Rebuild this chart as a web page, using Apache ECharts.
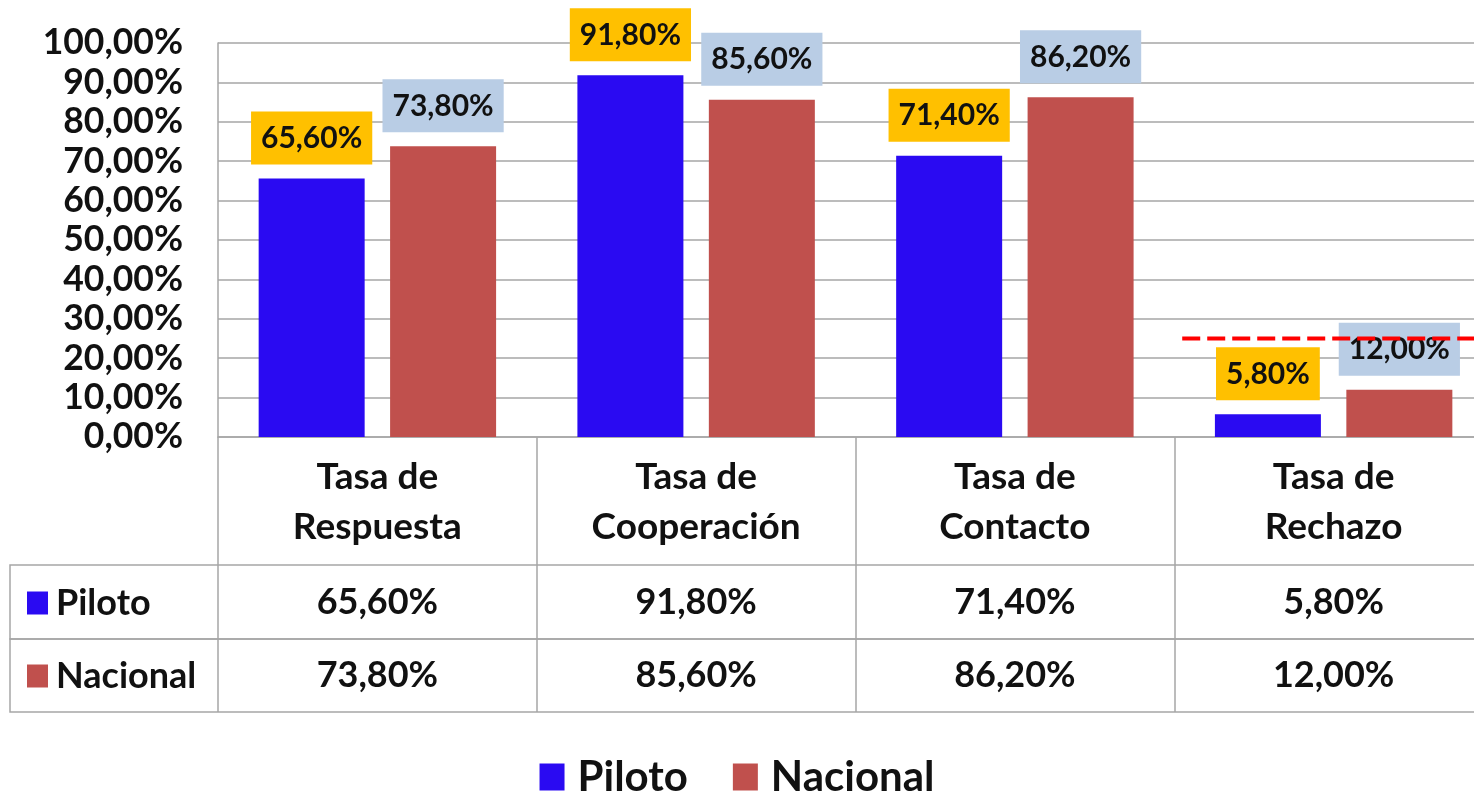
<!DOCTYPE html>
<html>
<head>
<meta charset="utf-8">
<script src="https://cdn.jsdelivr.net/npm/echarts@6/dist/echarts.min.js"></script>
<style>
  html, body { margin: 0; padding: 0; background: #fff; }
  #chart { width: 1474px; height: 791px; }
</style>
</head>
<body>
<div id="chart"></div>
<script>
// datos
const categorias = ['Tasa de\nRespuesta', 'Tasa de\nCooperación', 'Tasa de\nContacto', 'Tasa de\nRechazo'];
const piloto = [65.6, 91.8, 71.4, 5.8];
const nacional = [73.8, 85.6, 86.2, 12.0];
const ejeY = { min: 0, max: 100, paso: 10 };
// linea roja discontinua en la tasa de rechazo
const limiteRechazo = 25;
const limiteTramo = [3.025, 4];

const FUENTE = 'Lato';
const GRIS = '#a6a6a6';
const fmt = v => v.toFixed(2).replace('.', ',') + '%';

let chart = echarts.init(document.getElementById('chart'));

// etiqueta de la tabla de datos bajo cada categoria
function etiquetaTabla(valor, idx) {
  let lineas = valor.split('\n').map(l => '{h|' + l + '}');
  return lineas.join('\n') + '\n{p|' + fmt(piloto[idx]) + '}\n{n|' + fmt(nacional[idx]) + '}';
}

function etiquetaBarra(color) {
  return {
    show: true,
    position: 'top',
    distance: 14,
    backgroundColor: color,
    padding: [12, 10, 11, 10],
    fontFamily: FUENTE,
    fontWeight: 'bold',
    fontSize: 30,
    lineHeight: 30,
    color: '#111',
    formatter: p => fmt(p.value)
  };
}

// el grafico original queda cortado por la derecha
const anchoTabla = 1275;

let option = {
  animation: false,
  textStyle: { fontFamily: FUENTE },
  grid: [
    { left: 218, top: 43, width: anchoTabla, bottom: 354, outerBoundsMode: 'none' },
    { left: 10, top: 565, width: anchoTabla + 208, height: 74, outerBoundsMode: 'none', show: true, borderColor: GRIS, borderWidth: 1.5, backgroundColor: 'transparent' },
    { left: 10, top: 639, width: anchoTabla + 208, height: 73, outerBoundsMode: 'none', show: true, borderColor: GRIS, borderWidth: 1.5, backgroundColor: 'transparent' }
  ],
  legend: [
    {
      data: ['Piloto', 'Nacional'],
      left: 'center',
      top: 749,
      icon: 'rect',
      itemWidth: 25,
      itemHeight: 27,
      itemGap: 45,
      textStyle: { fontFamily: FUENTE, fontWeight: 'bold', fontSize: 42, lineHeight: 46, color: '#111', padding: [0, 0, 0, 8] }
    },
    {
      data: ['Piloto', 'Nacional'],
      orient: 'vertical',
      left: 22,
      top: 578,
      icon: 'rect',
      itemWidth: 21,
      itemHeight: 23,
      itemGap: 33,
      textStyle: { fontFamily: FUENTE, fontWeight: 'bold', fontSize: 36, lineHeight: 40, color: '#111', padding: [0, 0, 0, 3] }
    }
  ],
  xAxis: [
    {
      type: 'category',
      gridIndex: 0,
      data: categorias,
      axisLine: { lineStyle: { color: GRIS, width: 1.5 } },
      axisTick: { show: true, interval: 0, length: 275, lineStyle: { color: GRIS, width: 1.5 } },
      axisLabel: {
        interval: 0,
        margin: 15,
        formatter: etiquetaTabla,
        rich: {
          h: { fontFamily: FUENTE, fontWeight: 'bold', fontSize: 37, lineHeight: 50, color: '#111' },
          p: { fontFamily: FUENTE, fontWeight: 'bold', fontSize: 36, lineHeight: 100, color: '#111' },
          n: { fontFamily: FUENTE, fontWeight: 'bold', fontSize: 36, lineHeight: 46, color: '#111' }
        }
      }
    },
    { type: 'value', gridIndex: 0, min: 0, max: categorias.length, show: false },
    { type: 'value', gridIndex: 1, show: false },
    { type: 'value', gridIndex: 2, show: false }
  ],
  yAxis: [
    {
      type: 'value',
      gridIndex: 0,
      min: ejeY.min,
      max: ejeY.max,
      interval: ejeY.paso,
      axisLine: { show: true, lineStyle: { color: GRIS, width: 1.5 } },
      axisTick: { show: false },
      splitLine: { lineStyle: { color: GRIS, width: 1.5 } },
      axisLabel: {
        margin: 35,
        fontFamily: FUENTE,
        fontWeight: 'bold',
        fontSize: 35.5,
        color: '#111',
        formatter: v => fmt(v)
      }
    },
    { type: 'value', gridIndex: 1, show: false },
    { type: 'value', gridIndex: 2, show: false }
  ],
  series: [
    {
      name: 'Piloto',
      type: 'bar',
      xAxisIndex: 0,
      yAxisIndex: 0,
      data: piloto,
      barWidth: 106,
      barGap: '24%',
      itemStyle: { color: '#2a0af2' },
      label: etiquetaBarra('#ffc000')
    },
    {
      name: 'Nacional',
      type: 'bar',
      xAxisIndex: 0,
      yAxisIndex: 0,
      data: nacional,
      barWidth: 106,
      barGap: '24%',
      itemStyle: { color: '#c0504d' },
      label: etiquetaBarra('#b9cde5')
    },
    {
      name: 'Limite',
      type: 'line',
      xAxisIndex: 1,
      yAxisIndex: 0,
      symbol: 'none',
      z: 10,
      lineStyle: { color: '#ff0000', width: 4, type: [18, 7] },
      data: limiteTramo.map(x => [x, limiteRechazo])
    }
  ]
};

chart.setOption(option);
</script>
</body>
</html>
